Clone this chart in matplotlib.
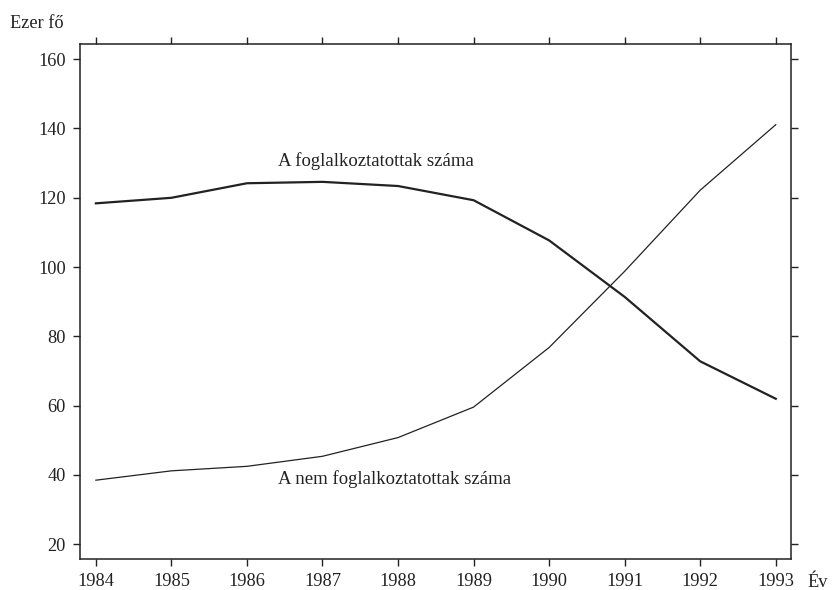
import matplotlib
matplotlib.use("Agg")
import matplotlib.pyplot as plt

years = [1984, 1985, 1986, 1987, 1988, 1989, 1990, 1991, 1992, 1993]
employed = [118.4, 120.0, 124.2, 124.6, 123.4, 119.3, 107.7, 91.4, 72.8, 62.0]
unemployed = [38.5, 41.2, 42.5, 45.4, 50.8, 59.6, 76.8, 98.8, 122.2, 141.1]
yticks = [20, 40, 60, 80, 100, 120, 140, 160]
label_employed = "A foglalkoztatottak száma"
label_unemployed = "A nem foglalkoztatottak száma"
ylabel = "Ezer fő"
xlabel = "Év"

plt.rcParams['font.family'] = ['Liberation Serif', 'DejaVu Serif']
fs = 13.2
fsa = 13.5
col = '#222222'

fig = plt.figure(figsize=(8.36, 5.90), dpi=100)
ax = fig.add_axes([80/836, 1-558.5/590, (790.5-80)/836, (558.5-44.3)/590])

ax.plot(years, employed, color=col, lw=1.6, solid_joinstyle='round')
ax.plot(years, unemployed, color=col, lw=0.9, solid_joinstyle='round')

ax.set_xlim(1983.79, 1993.195)
ax.set_ylim(15.9, 164.3)
ax.set_xticks(years)
ax.set_xticklabels([str(y) for y in years], fontsize=fs, color=col)
ax.set_yticks(yticks)
ax.set_yticklabels([str(v) for v in yticks], fontsize=fs, color=col)
ax.tick_params(axis='both', direction='out', length=5.2, width=1.0, color=col,
               top=True, right=True, labeltop=False, labelright=False)
ax.tick_params(axis='x', pad=5.5)
ax.tick_params(axis='y', pad=5)
for s in ax.spines.values():
    s.set_linewidth(1.1)
    s.set_color(col)

ax.text(1986.41, 129.1, label_employed, fontsize=fsa, color=col, ha='left', va='baseline')
ax.text(1986.41, 37.3, label_unemployed, fontsize=fsa, color=col, ha='left', va='baseline')

fig.text(10/836, 1-28/590, ylabel, fontsize=fs, color=col, ha='left', va='baseline')
fig.text(807/836, 1-587/590, xlabel, fontsize=fs, color=col, ha='left', va='baseline')

fig.savefig("out.png", dpi=100)
